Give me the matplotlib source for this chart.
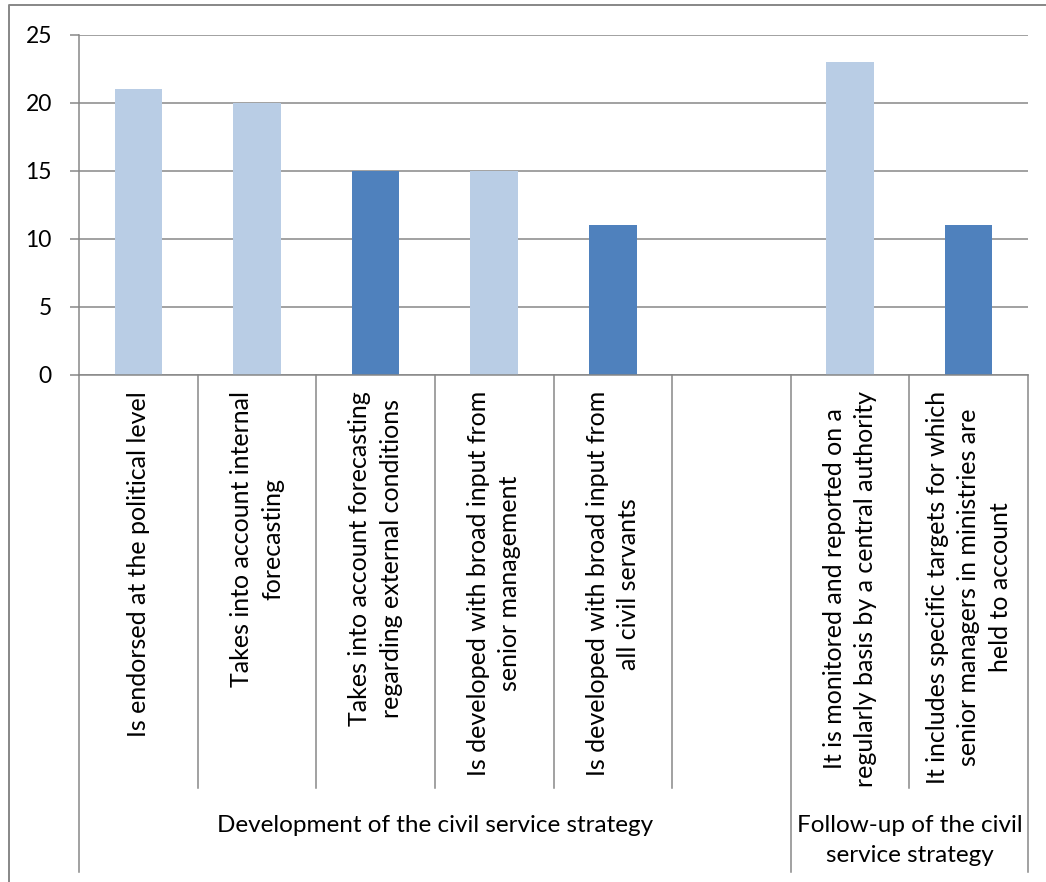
import numpy as np
import matplotlib
matplotlib.use("Agg")
import matplotlib.pyplot as plt
from matplotlib.lines import Line2D
from matplotlib.transforms import blended_transform_factory

# ---- data -------------------------------------------------------------
categories = [
    "Is endorsed at the political level",
    "Takes into account internal\nforecasting",
    "Takes into account forecasting\nregarding external conditions",
    "Is developed with broad input from\nsenior management",
    "Is developed with broad input from\nall civil servants",
    "",
    "It is monitored and reported on a\nregularly basis by a central authority",
    "It includes specific targets for which\nsenior managers in ministries are\nheld to account",
]
values = [21, 20, 15, 15, 11, np.nan, 23, 11]
highlighted = [False, False, True, False, True, False, False, True]

groups = ["Development of the civil service strategy",
          "Follow-up of the civil\nservice strategy"]
group_sizes = [6, 2]

y_ticks = [0, 5, 10, 15, 20, 25]

# ---- style ------------------------------------------------------------
LIGHT = "#B9CDE5"
DARK = "#4F81BD"
GRID = "#878787"
FONT = "Lato"
FS_TICK = 16.5
FS_CAT = 18
FS_GRP = 17.5

W, H = 1046, 882
fig = plt.figure(figsize=(W / 100, H / 100), dpi=100)

left, right, top, bottom = 79, 1028, 35, 375
ax = fig.add_axes([left / W, 1 - bottom / H, (right - left) / W, (bottom - top) / H])

x = np.arange(len(categories))
bar_colors = [DARK if h else LIGHT for h in highlighted]
ax.bar(x, values, width=0.4, color=bar_colors, zorder=3)

ax.set_xlim(-0.5, len(categories) - 0.5)
ax.set_ylim(0, 25)
ax.set_yticks(y_ticks)
ax.set_yticklabels([str(t) for t in y_ticks], fontfamily=FONT, fontsize=FS_TICK)
ax.tick_params(axis="y", length=6.5, width=1.1, color=GRID, pad=13)
ax.set_xticks([])
ax.yaxis.grid(True, color=GRID, linewidth=1.1, zorder=0)

for s in ["top", "right", "bottom"]:
    ax.spines[s].set_visible(False)
ax.spines["left"].set_color(GRID)
ax.spines["left"].set_linewidth(1.1)
ax.axhline(0, color=GRID, linewidth=1.1, zorder=4, clip_on=False)

# ---- multi-level category axis -----------------------------------------
trans = blended_transform_factory(ax.transData, ax.transAxes)
axis_px = bottom - top


def ay(py):
    """Convert a pixel row below the axis into axes-fraction y."""
    return -(py - bottom) / axis_px


cat_bottom = ay(788)
grp_bottom = ay(872)

boundaries = np.arange(len(categories) + 1) - 0.5
group_edges = np.concatenate([[0], np.cumsum(group_sizes)]) - 0.5
for b in boundaries:
    yb = grp_bottom if np.any(np.isclose(group_edges, b)) else cat_bottom
    ax.add_line(Line2D([b, b], [0, yb], transform=trans, color=GRID,
                       linewidth=1.1, clip_on=False))

for xi, lab in zip(x, categories):
    if lab:
        ax.text(xi, ay(391), lab, transform=trans, rotation=90,
                ha="center", va="top", multialignment="center",
                fontfamily=FONT, fontsize=FS_CAT, linespacing=1.45)

starts = np.concatenate([[0], np.cumsum(group_sizes)[:-1]])
for g, s, n in zip(groups, starts, group_sizes):
    cx = s + (n - 1) / 2
    ax.text(cx, ay(815), g, transform=trans, ha="center", va="top",
            multialignment="center", fontfamily=FONT, fontsize=FS_GRP,
            linespacing=1.55)

# ---- chart-area frame ------------------------------------------------
fig.add_artist(Line2D([9 / W, 9 / W, 1.0], [0.0, 1 - 5 / H, 1 - 5 / H],
                      transform=fig.transFigure, color=GRID, linewidth=1.4))

fig.savefig("out.png", dpi=100)
